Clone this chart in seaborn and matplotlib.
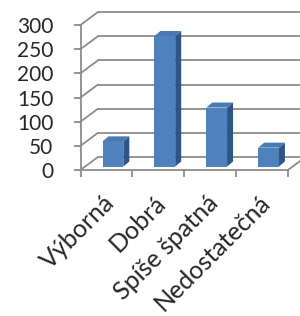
import matplotlib
matplotlib.use("Agg")
import matplotlib.pyplot as plt
import matplotlib.transforms as mtransforms
from matplotlib.patches import Polygon
import seaborn as sns
import numpy as np

categories = ["Výborná", "Dobrá", "Spíše špatná", "Nedostatečná"]
values = [52, 270, 122, 39]
y_ticks = [0, 50, 100, 150, 200, 250, 300]

sns.set_style("white")
plt.rcParams['font.family'] = ['Lato', 'DejaVu Sans']

GRAY = '#8c8c8c'
TXT = '#262626'
FRONT = '#4F81BD'
SIDE = '#2F5588'
TOP = '#4A78B2'

W, H = 300, 316
fig = plt.figure(figsize=(W / 100, H / 100), dpi=100)
left_px, right_px, top_px, bot_px = 80.5, 288, 25, 170
ax = fig.add_axes([left_px / W, (H - bot_px) / H, (right_px - left_px) / W, (bot_px - top_px) / H])

sns.barplot(x=categories, y=values, color=FRONT, saturation=1, width=0.4, ax=ax, zorder=3)
ax.set_xlim(-0.5, 3.5)
ax.set_ylim(0, 300)
ax.set_xlabel("")
ax.set_ylabel("")

# depth offsets (pixels)
wall_dx, wall_dy = 17.5, 13
bar_dx, bar_dy = 6.5, 3.5
depth_dx, depth_dy = 6, 5

back = mtransforms.offset_copy(ax.transData, fig=fig, x=wall_dx, y=wall_dy, units='dots')
front_bar = mtransforms.offset_copy(ax.transData, fig=fig, x=bar_dx, y=bar_dy, units='dots')

lw = 1.3
# back wall gridlines + side wall diagonals
for yv in y_ticks:
    ax.plot([-0.5, 4.5], [yv, yv], color=GRAY, lw=lw, transform=back, clip_on=False, zorder=1)
    p0 = ax.transData.transform((-0.5, yv))
    ax.add_line(plt.Line2D([p0[0], p0[0] + wall_dx], [p0[1], p0[1] + wall_dy], color=GRAY, lw=lw,
                           transform=mtransforms.IdentityTransform(), clip_on=False, zorder=1))
# floor right edge
p0 = ax.transData.transform((3.5, 0))
ax.add_line(plt.Line2D([p0[0], p0[0] + wall_dx], [p0[1], p0[1] + wall_dy], color=GRAY, lw=lw,
                       transform=mtransforms.IdentityTransform(), clip_on=False, zorder=1))

# 3D bars
for patch in list(ax.patches):
    x0 = patch.get_x()
    x1 = x0 + patch.get_width()
    h = patch.get_height()
    patch.set_transform(front_bar)
    patch.set_clip_on(False)
    patch.set_edgecolor('none')
    (X0, Y0) = front_bar.transform((x0, 0))
    (X1, Y1) = front_bar.transform((x1, h))
    side = Polygon([(X1, Y0), (X1 + depth_dx, Y0 + depth_dy), (X1 + depth_dx, Y1 + depth_dy), (X1, Y1)],
                   closed=True, facecolor=SIDE, edgecolor='none',
                   transform=mtransforms.IdentityTransform(), clip_on=False, zorder=3)
    top = Polygon([(X0, Y1), (X1, Y1), (X1 + depth_dx, Y1 + depth_dy), (X0 + depth_dx, Y1 + depth_dy)],
                  closed=True, facecolor=TOP, edgecolor='none',
                  transform=mtransforms.IdentityTransform(), clip_on=False, zorder=3)
    ax.add_patch(side)
    ax.add_patch(top)

# spines
for s in ['top', 'right']:
    ax.spines[s].set_visible(False)
for s in ['left', 'bottom']:
    ax.spines[s].set_color(GRAY)
    ax.spines[s].set_linewidth(lw)
    ax.spines[s].set_zorder(2)

# y ticks
ax.set_yticks(y_ticks)
ax.set_yticklabels([str(v) for v in y_ticks])
ax.tick_params(axis='y', which='major', direction='out', length=5, width=lw, color=GRAY,
               labelsize=15, labelcolor=TXT, pad=14.5, left=True)

# x ticks: major marks at boundaries, minor labels at centers
ax.set_xticks(np.arange(-0.5, 4, 1.0))
ax.set_xticklabels([])
ax.set_xticks(np.arange(len(categories)), minor=True)
ax.set_xticklabels(categories, minor=True, rotation=45, ha='right', va='center', rotation_mode='anchor')
ax.tick_params(axis='x', which='major', direction='out', length=5, width=lw, color=GRAY, bottom=True)
ax.tick_params(axis='x', which='minor', length=0, labelsize=18, labelcolor=TXT, pad=21)
for lab in ax.get_xticklabels(minor=True):
    lab.set_transform(lab.get_transform() + mtransforms.ScaledTranslation(4 / 100, 0, fig.dpi_scale_trans))

fig.savefig("out.png", dpi=100)
